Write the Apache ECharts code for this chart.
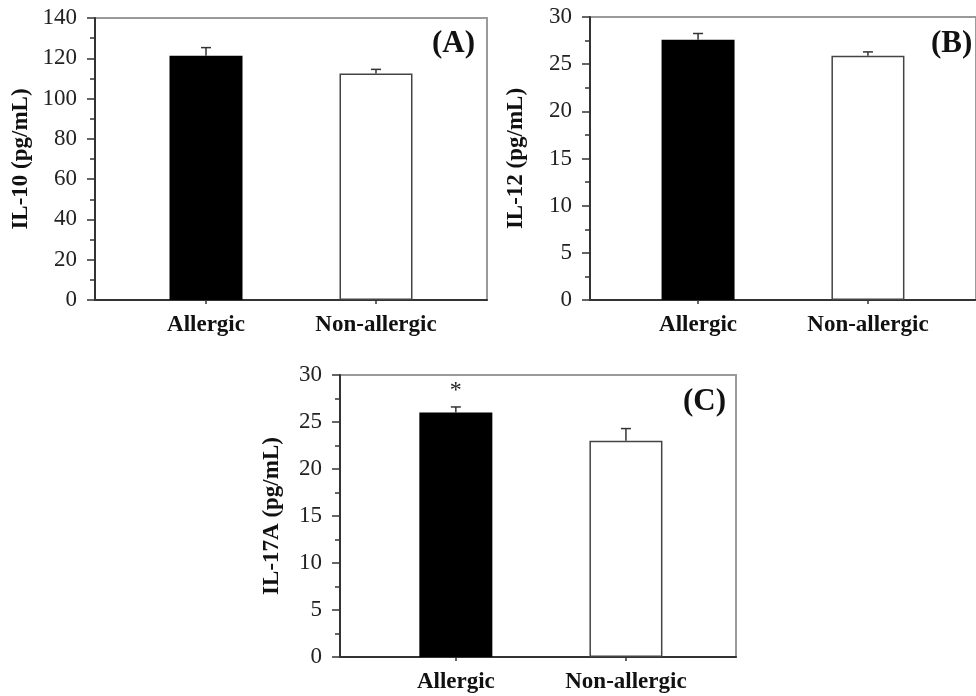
<!DOCTYPE html>
<html>
<head>
<meta charset="utf-8">
<script src="https://cdn.jsdelivr.net/npm/echarts@6/dist/echarts.min.js"></script>
<style>
  html, body { margin: 0; padding: 0; background: #fff; }
  #chart { width: 976px; height: 696px; }
</style>
</head>
<body>
<div id="chart"></div>
<script>
// data
const categories = ['Allergic', 'Non-allergic'];

const il10Mean = [121.3, 112.5];
const il10Err = [4.0, 2.0];

const il12Mean = [27.6, 25.9];
const il12Err = [0.65, 0.4];

const il17aMean = [26.0, 23.0];
const il17aErr = [0.6, 1.3];
const il17aMarks = ['*', ''];

const barColors = ['#000000', '#ffffff'];

const serif = '"Liberation Serif", "DejaVu Serif", serif';
const chart = echarts.init(document.getElementById('chart'));

// panels: grid box + x range so the two bars sit where the figure has them
const panels = [
  { name: 'IL-10 (pg/mL)', mean: il10Mean, err: il10Err, marks: ['', ''],
    max: 140, interval: 20, nameGap: 62,
    grid: { left: 95, top: 18, width: 392, height: 282 }, xMin: 0.347, xMax: 2.653 },
  { name: 'IL-12 (pg/mL)', mean: il12Mean, err: il12Err, marks: ['', ''],
    max: 30, interval: 5, nameGap: 62,
    grid: { left: 590, top: 17, width: 393, height: 283 }, xMin: 0.364, xMax: 2.636 },
  { name: 'IL-17A (pg/mL)', mean: il17aMean, err: il17aErr, marks: il17aMarks,
    max: 30, interval: 5, nameGap: 56,
    grid: { left: 340, top: 375, width: 396, height: 282 }, xMin: 0.319, xMax: 2.647 }
];

const grids = [], xAxes = [], yAxes = [], series = [];

panels.forEach(function (p, i) {
  grids.push(Object.assign({ show: true, borderColor: '#9a9a9a', borderWidth: 2,
    backgroundColor: 'transparent' }, p.grid));

  xAxes.push({
    type: 'value', gridIndex: i, min: p.xMin, max: p.xMax,
    axisLine: { show: true, lineStyle: { color: '#333', width: 2 } },
    axisTick: { show: true, inside: false, length: 4, customValues: [1, 2],
      lineStyle: { color: '#333', width: 1.5 } },
    axisLabel: { customValues: [1, 2], margin: 14, color: '#111',
      fontFamily: serif, fontSize: 23, fontWeight: 'bold',
      formatter: function (v) { return categories[Math.round(v) - 1] || ''; } },
    splitLine: { show: false }
  });

  yAxes.push({
    type: 'value', gridIndex: i, min: 0, max: p.max, interval: p.interval,
    name: p.name, nameLocation: 'middle', nameGap: p.nameGap,
    nameTextStyle: { fontFamily: serif, fontSize: 23, fontWeight: 'bold', color: '#111' },
    axisLine: { show: true, lineStyle: { color: '#333', width: 2 } },
    axisTick: { show: true, inside: false, length: 8, lineStyle: { color: '#333', width: 1.5 } },
    minorTick: { show: true, splitNumber: 2, length: 5, lineStyle: { color: '#333', width: 1.5 } },
    axisLabel: { margin: 18, color: '#222', fontFamily: serif, fontSize: 23 },
    splitLine: { show: false }
  });

  series.push({
    type: 'bar', xAxisIndex: i, yAxisIndex: i, barWidth: 73,
    data: p.mean.map(function (v, k) {
      return { value: [k + 1, v],
        itemStyle: { color: barColors[k], borderColor: '#444', borderWidth: k === 0 ? 0 : 1.5 } };
    }),
    z: 2
  });

  // upper error bars (+ significance mark)
  series.push({
    type: 'custom', xAxisIndex: i, yAxisIndex: i, z: 3,
    data: p.mean.map(function (v, k) { return [k + 1, v, p.err[k]]; }),
    renderItem: function (params, api) {
      const x = api.value(0), m = api.value(1), e = api.value(2);
      const base = api.coord([x, m]);
      const top = api.coord([x, m + e]);
      const style = { stroke: '#333', lineWidth: 1.5 };
      const children = [
        { type: 'line', shape: { x1: base[0], y1: base[1], x2: top[0], y2: top[1] }, style: style },
        { type: 'line', shape: { x1: top[0] - 5, y1: top[1], x2: top[0] + 5, y2: top[1] }, style: style }
      ];
      const mark = p.marks[params.dataIndex];
      if (mark) {
        children.push({ type: 'text', x: top[0], y: top[1] - 4,
          style: { text: mark, fill: '#222', font: '24px ' + serif,
            align: 'center', verticalAlign: 'bottom' } });
      }
      return { type: 'group', children: children };
    }
  });
});

const tagStyle = { fill: '#111', font: 'bold 31px ' + serif };

chart.setOption({
  animation: false,
  backgroundColor: '#fff',
  grid: grids,
  xAxis: xAxes,
  yAxis: yAxes,
  series: series,
  graphic: [
    { type: 'text', left: 432, top: 28, style: Object.assign({ text: '(A)' }, tagStyle) },
    { type: 'text', left: 931, top: 28, style: Object.assign({ text: '(B)' }, tagStyle) },
    { type: 'text', left: 683, top: 386, style: Object.assign({ text: '(C)' }, tagStyle) }
  ]
});
</script>
</body>
</html>
